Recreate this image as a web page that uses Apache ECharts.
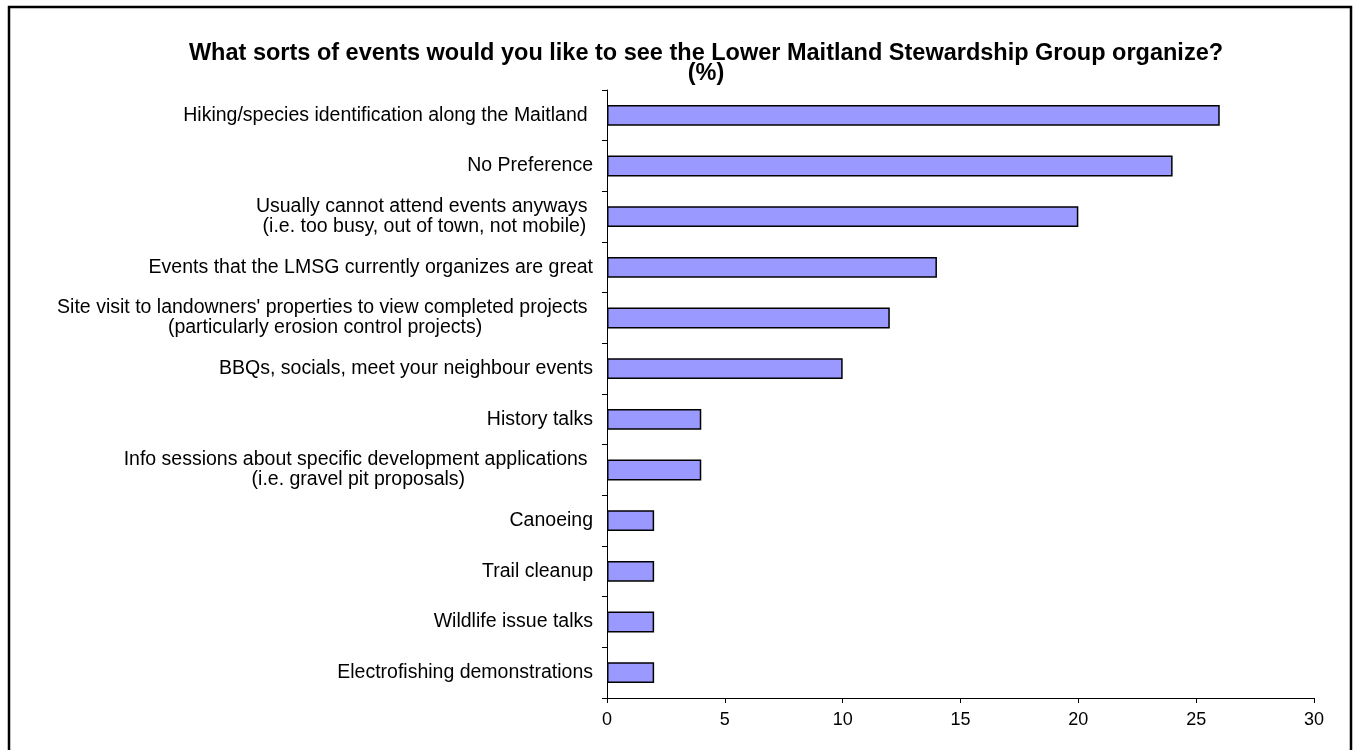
<!DOCTYPE html>
<html>
<head>
<meta charset="utf-8">
<script src="https://cdn.jsdelivr.net/npm/echarts@6/dist/echarts.min.js"></script>
<style>html,body{margin:0;padding:0;background:#fff}#c{width:1354px;height:750px}</style>
</head>
<body>
<div id="c"></div>
<script>
const categories = [
  "Hiking/species identification along the Maitland ",
  "No Preference",
  "Usually cannot attend events anyways \n(i.e. too busy, out of town, not mobile)",
  "Events that the LMSG currently organizes are great",
  "Site visit to landowners' properties to view completed projects \n(particularly erosion control projects)",
  "BBQs, socials, meet your neighbour events",
  "History talks",
  "Info sessions about specific development applications \n(i.e. gravel pit proposals)",
  "Canoeing",
  "Trail cleanup",
  "Wildlife issue talks",
  "Electrofishing demonstrations"
];
const values = [26, 24, 20, 14, 12, 10, 4, 4, 2, 2, 2, 2];
const xTicks = [0, 5, 10, 15, 20, 25, 30];

const FONT = 'Liberation Sans, Arial, Helvetica, sans-serif';
const chart = echarts.init(document.getElementById('c'));
chart.setOption({
  animation: false,
  backgroundColor: '#fff',
  title: {
    text: 'What sorts of events would you like to see the Lower Maitland Stewardship Group organize?\n(%)',
    left: 701, top: 39, textAlign: 'center',
    textStyle: { fontFamily: FONT, fontSize: 23.5, fontWeight: 'bold', color: '#000', lineHeight: 20 }
  },
  graphic: [{
    type: 'rect', shape: { x: 9, y: 7, width: 1342, height: 780 },
    style: { fill: 'none', stroke: '#000', lineWidth: 2.5 }, silent: true
  }],
  grid: { left: 607, right: 40, top: 90, bottom: 52 },
  xAxis: {
    type: 'value', min: xTicks[0], max: xTicks[xTicks.length - 1], interval: 5,
    splitLine: { show: false },
    axisLine: { show: true, lineStyle: { color: '#000', width: 1 } },
    axisTick: { show: true, length: 5, lineStyle: { color: '#000' } },
    axisLabel: { color: '#000', fontFamily: FONT, fontSize: 18, margin: 13 }
  },
  yAxis: {
    type: 'category', inverse: true, data: categories,
    axisLine: { show: true, onZero: false, lineStyle: { color: '#000', width: 1 } },
    axisTick: { show: true, length: 5, alignWithLabel: false, lineStyle: { color: '#000' } },
    axisLabel: {
      color: '#000', fontFamily: FONT, fontSize: 19.5, margin: 14, lineHeight: 20,
      formatter: function (v) { return v.split('\n').map(function (s) { return '{c|' + s + '}'; }).join('\n'); },
      rich: { c: { align: 'center', fontFamily: FONT, fontSize: 19.5, color: '#000', lineHeight: 20 } }
    }
  },
  series: [{
    type: 'bar', data: values, barWidth: '41%',
    itemStyle: { color: '#9999FF', borderColor: '#000', borderWidth: 1.5 }
  }]
});
</script>
</body>
</html>
